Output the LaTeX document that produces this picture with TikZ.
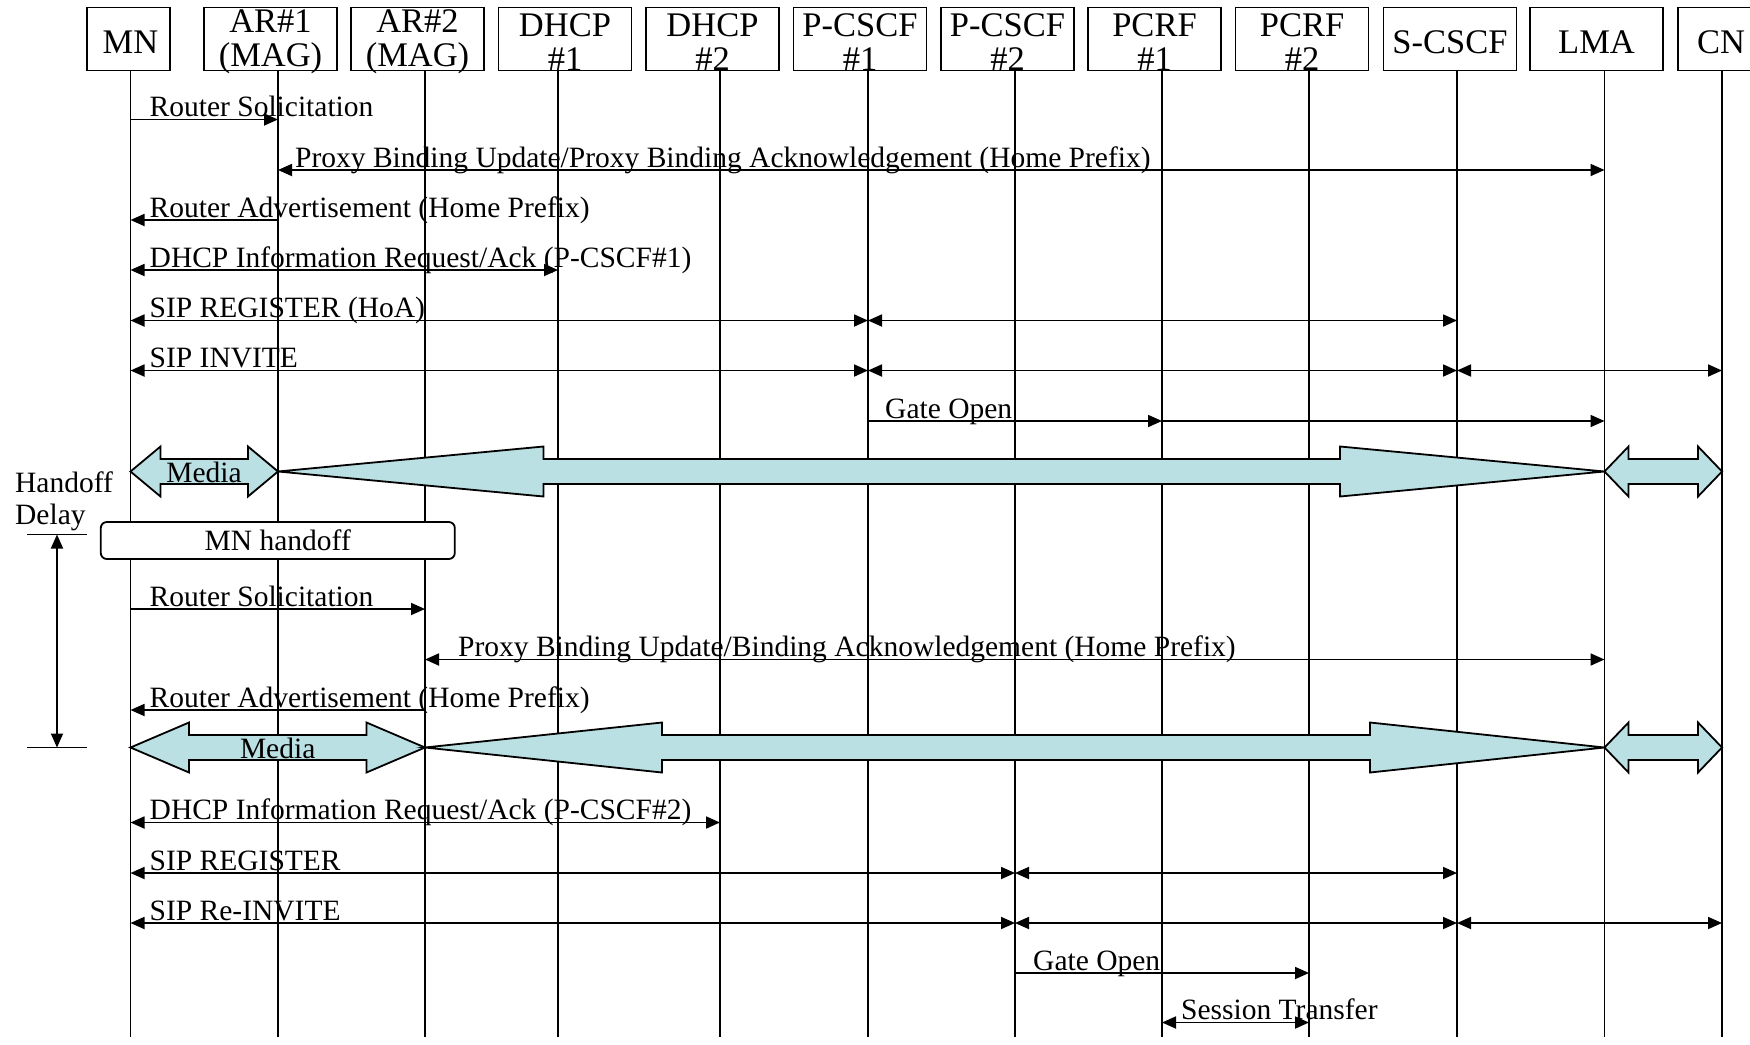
\documentclass[tikz,border=0pt]{standalone}
\usepackage{fontspec}
\setmainfont{Liberation Serif}
\usetikzlibrary{arrows.meta}
\definecolor{mediafill}{RGB}{187,224,227}
\tikzset{
  hdr/.style={draw, line width=1.8pt, minimum width=133pt, minimum height=63pt, inner sep=0pt},
  hdrtxt/.style={inner sep=0pt, align=center, font=\fontsize{34.5}{33.5}\selectfont},
  life/.style={line width=1.8pt},
  msg/.style={line width=1.8pt},
  lbl/.style={anchor=base west, inner sep=0pt, font=\fontsize{29.5}{29.5}\selectfont},
  media/.style={draw, fill=mediafill, line width=1.8pt, line join=miter},
  medialbl/.style={inner sep=0pt, font=\fontsize{29.5}{29.5}\selectfont},
  hobox/.style={draw, fill=white, rounded corners=6pt, line width=1.8pt, minimum width=354pt, minimum height=37pt, inner sep=0pt, font=\fontsize{29.5}{29.5}\selectfont},
  >={Triangle[length=14pt,width=12pt]}
}
\newcommand\medarrow[5]{% x1, b1, b2, x2, y
  \draw[media] (#1,#5) -- (#2,#5-25) -- (#2,#5-12.5) -- (#3,#5-12.5) -- (#3,#5-25) -- (#4,#5)
   -- (#3,#5+25) -- (#3,#5+12.5) -- (#2,#5+12.5) -- (#2,#5+25) -- cycle;}
% name, box centre x, box width, text centre x, text
\newcommand\hdrbox[5]{%
  \node[hdr, minimum width=#3] (b#1) at (#2,39) {};
  \node[hdrtxt] (h#1) at (#4,42) {#5};}
\begin{document}
\begin{tikzpicture}[x=1pt,y=-1pt]
\useasboundingbox (0,0) rectangle (1750,1044);
\fill[white] (0,0) rectangle (1750,1044);
\clip (0,0) rectangle (1750,1044);
% header boxes
\hdrbox{MN}{128.5}{83pt}{130.5}{MN}
\hdrbox{AR1}{270.5}{133pt}{270.5}{AR\#1\\(MAG)}
\hdrbox{AR2}{417.5}{133pt}{417.5}{AR\#2\\(MAG)}
\hdrbox{DH1}{565}{133pt}{565}{DHCP\\\#1}
\hdrbox{DH2}{712.5}{133pt}{712.5}{DHCP\\\#2}
\hdrbox{PC1}{860}{133pt}{860}{P-CSCF\\\#1}
\hdrbox{PC2}{1007.5}{133pt}{1007.5}{P-CSCF\\\#2}
\hdrbox{PR1}{1154.5}{133pt}{1154.5}{PCRF\\\#1}
\hdrbox{PR2}{1302}{133pt}{1302}{PCRF\\\#2}
\hdrbox{SC}{1450}{133pt}{1450}{S-CSCF}
\hdrbox{LMA}{1596.5}{133pt}{1596.5}{LMA}
\hdrbox{CN}{1729}{102pt}{1721}{CN}
% lifeline coordinates
\foreach \n/\x in {MN/130.5,AR1/278,AR2/425,DH1/558,DH2/720,PC1/868,PC2/1015,PR1/1162,PR2/1309,SC/1457,LMA/1604.5,CN/1722}{
  \coordinate (l\n) at (\x,70.5);
  \coordinate (e\n) at (\x,1037);
}
\foreach \n in {MN,AR1,AR2,DH1,DH2,PC1,PC2,PR1,PR2,SC,LMA,CN}{
  \draw[life] (l\n) -- (e\n);
}
% rows
\coordinate (r1) at (0,119.5);
\coordinate (r2) at (0,170);
\coordinate (r3) at (0,220);
\coordinate (r4) at (0,270);
\coordinate (r5) at (0,320.5);
\coordinate (r6) at (0,370.5);
\coordinate (r7) at (0,421);
\coordinate (r9) at (0,609);
\coordinate (r10) at (0,659.5);
\coordinate (r11) at (0,710);
\coordinate (r13) at (0,822.5);
\coordinate (r14) at (0,873);
\coordinate (r15) at (0,923);
\coordinate (r16) at (0,973);
\coordinate (r17) at (0,1022.5);
% messages
\draw[msg,->] (lMN |- r1) -- (lAR1 |- r1);
\node[lbl] (t1) at (149.5,116.5) {Router Solicitation};
\draw[msg,<->] (lAR1 |- r2) -- (lLMA |- r2);
\node[lbl] (t2) at (295,167) {Proxy Binding Update/Proxy Binding Acknowledgement (Home Prefix)};
\draw[msg,->] (lAR1 |- r3) -- (lMN |- r3);
\node[lbl] (t3) at (149.5,217) {Router Advertisement (Home Prefix)};
\draw[msg,<->] (lMN |- r4) -- (lDH1 |- r4);
\node[lbl] (t4) at (149.5,267) {DHCP Information Request/Ack (P-CSCF\#1)};
\draw[msg,<->] (lMN |- r5) -- (lPC1 |- r5);
\draw[msg,<->] (lPC1 |- r5) -- (lSC |- r5);
\node[lbl] (t5) at (149.5,317.5) {SIP REGISTER (HoA)};
\draw[msg,<->] (lMN |- r6) -- (lPC1 |- r6);
\draw[msg,<->] (lPC1 |- r6) -- (lSC |- r6);
\draw[msg,<->] (lSC |- r6) -- (lCN |- r6);
\node[lbl] (t6) at (149.5,367.5) {SIP INVITE};
\draw[msg,->] (lPC1 |- r7) -- (lPR1 |- r7);
\draw[msg,->] (lPR1 |- r7) -- (lLMA |- r7);
\node[lbl] (t7) at (885,418) {Gate Open};
% media 1
\medarrow{130.5}{160.5}{248}{278}{471.5}
\medarrow{278}{543.5}{1340}{1604.5}{471.5}
\medarrow{1604.5}{1628.5}{1698}{1722}{471.5}
\node[medialbl] (m1) at (204,472) {Media};
% handoff
\node[hobox] (ho) at (277.8,540.5) {MN handoff};
\node[lbl] (hd1) at (15,492) {Handoff};
\node[lbl] (hd2) at (15,524) {Delay};
\coordinate (hdT) at (57,534.5);
\coordinate (hdB) at (57,747.5);
\draw[msg] (27,534.5) -- (87,534.5);
\draw[msg] (27,747.5) -- (87,747.5);
\draw[msg,<->] (hdT) -- (hdB);
% second part
\draw[msg,->] (lMN |- r9) -- (lAR2 |- r9);
\node[lbl] (t9) at (149.5,606) {Router Solicitation};
\draw[msg,<->] (lAR2 |- r10) -- (lLMA |- r10);
\node[lbl] (t10) at (458,656.5) {Proxy Binding Update/Binding Acknowledgement (Home Prefix)};
\draw[msg,->] (lAR2 |- r11) -- (lMN |- r11);
\node[lbl] (t11) at (149.5,707) {Router Advertisement (Home Prefix)};
% media 2
\medarrow{130.5}{189}{366.5}{425}{747.5}
\medarrow{425}{662}{1370}{1604.5}{747.5}
\medarrow{1604.5}{1628.5}{1698}{1722}{747.5}
\node[medialbl] (m2) at (277.7,748) {Media};
\draw[msg,<->] (lMN |- r13) -- (lDH2 |- r13);
\node[lbl] (t13) at (149.5,819.5) {DHCP Information Request/Ack (P-CSCF\#2)};
\draw[msg,<->] (lMN |- r14) -- (lPC2 |- r14);
\draw[msg,<->] (lPC2 |- r14) -- (lSC |- r14);
\node[lbl] (t14) at (149.5,870) {SIP REGISTER};
\draw[msg,<->] (lMN |- r15) -- (lPC2 |- r15);
\draw[msg,<->] (lPC2 |- r15) -- (lSC |- r15);
\draw[msg,<->] (lSC |- r15) -- (lCN |- r15);
\node[lbl] (t15) at (149.5,920) {SIP Re-INVITE};
\draw[msg,->] (lPC2 |- r16) -- (lPR2 |- r16);
\node[lbl] (t16) at (1033,970) {Gate Open};
\draw[msg,<->] (lPR1 |- r17) -- (lPR2 |- r17);
\node[lbl] (t17) at (1181,1019.5) {Session Transfer};
\end{tikzpicture}
\end{document}
